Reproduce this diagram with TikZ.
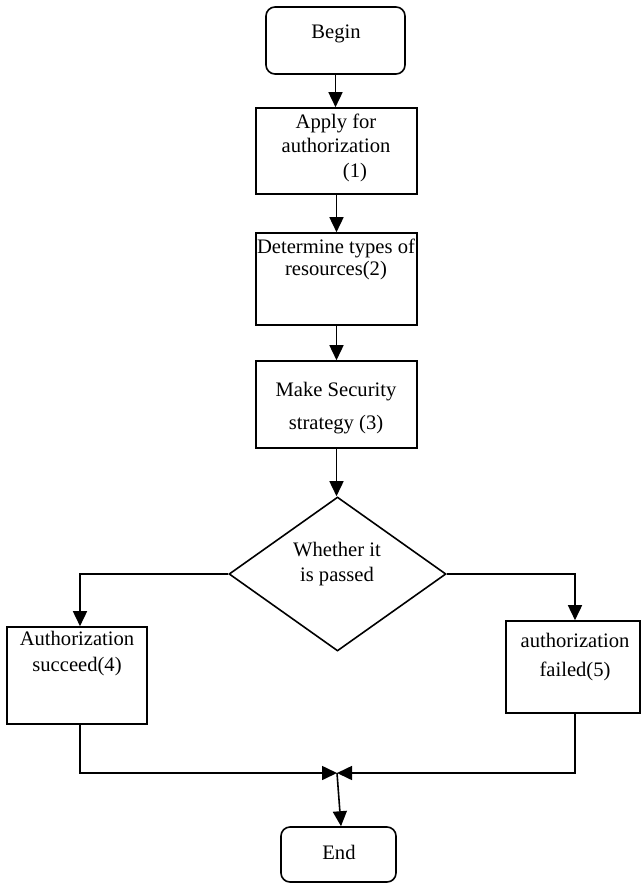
\documentclass[tikz,border=0pt]{standalone}
\usepackage{fontspec}
\setmainfont{Liberation Serif}
\usetikzlibrary{arrows.meta,shapes.geometric}
\begin{document}
\begin{tikzpicture}[x=1pt,y=-1pt,
  line width=1.6pt,
  box/.style={draw, line width=1.6pt, inner sep=0pt},
  term/.style={box, rounded corners=9pt},
  decision/.style={box, diamond, shape aspect=1.4},
  txt/.style={align=center, inner sep=0pt},
  flow/.style={-{Triangle[length=15pt,width=14pt]}},
]
\useasboundingbox (0,0) rectangle (643,886);

% frames
\node[term, minimum width=139, minimum height=67] (begin) at (335.5,40.5) {};
\node[box, minimum width=161, minimum height=86] (apply) at (336.5,151) {};
\node[box, minimum width=161, minimum height=92] (det) at (336.5,279) {};
\node[box, minimum width=161, minimum height=87] (make) at (336.5,404.5) {};
\node[decision, minimum width=217, minimum height=154] (dec) at (337.5,574) {};
\node[box, minimum width=140, minimum height=97] (succ) at (77,675.5) {};
\node[box, minimum width=134, minimum height=92] (fail) at (573,667) {};
\node[term, minimum width=115, minimum height=55] (end) at (338.5,854.5) {};

% labels
\node[txt, font=\fontsize{20.6}{24}\selectfont] (begin-t) at (336,34) {Begin};
\node[txt, font=\fontsize{20.6}{24.5}\selectfont] (apply-t) at (336,147.5)
  {Apply for\\authorization\\\hspace*{38pt}(1)};
\node[txt, font=\fontsize{20.6}{22}\selectfont] (det-t) at (336,259)
  {Determine types of\\resources(2)};
\node[txt, font=\fontsize{20.6}{33}\selectfont] (make-t) at (336,408.5)
  {Make Security\\strategy (3)};
\node[txt, font=\fontsize{20.6}{25}\selectfont] (dec-t) at (337,564.5)
  {Whether it\\is passed};
\node[txt, font=\fontsize{20.6}{26}\selectfont] (succ-t) at (77,654)
  {Authorization\\succeed(4)};
\node[txt, font=\fontsize{20.6}{29}\selectfont] (fail-t) at (575,657.5)
  {authorization\\failed(5)};
\node[txt, font=\fontsize{20.6}{24}\selectfont] (end-t) at (339,852) {End};

% connectors
\coordinate (merge) at (337,773);
\draw[flow] (begin.south) -- (begin.south |- apply.north);
\draw[flow] (apply.south) -- (det.north);
\draw[flow] (det.south) -- (make.north);
\draw[flow] (make.south) -- (make.south |- dec.north);
\draw[flow] (dec.west) -| ([xshift=3pt]succ.north);
\draw[flow] (dec.east) -| ([xshift=2pt]fail.north);
\draw[flow] ([xshift=3pt]succ.south) |- (merge);
\draw[flow] ([xshift=2pt]fail.south) |- (merge);
\draw[flow] (merge) -- ([xshift=2.5pt]end.north);
\end{tikzpicture}
\end{document}
